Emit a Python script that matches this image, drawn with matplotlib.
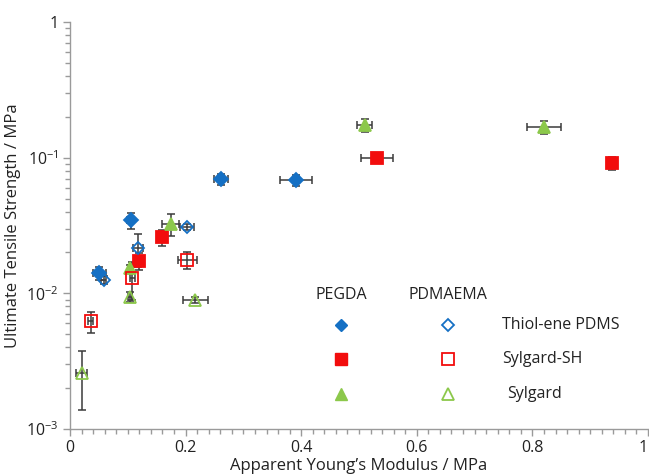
import math
import matplotlib
matplotlib.use("Agg")
import matplotlib.pyplot as plt
from matplotlib.ticker import FixedLocator, MultipleLocator, LogLocator, NullFormatter, FuncFormatter

plt.rcParams['font.family'] = ['Open Sans', 'DejaVu Sans']
plt.rcParams['mathtext.fontset'] = 'custom'
plt.rcParams['mathtext.rm'] = 'Open Sans'
plt.rcParams['mathtext.default'] = 'regular'

# ---- data: (modulus, modulus err, strength, strength err), MPa ----
# PEGDA hydrogels
pegda_thiol_x = [0.051, 0.105, 0.261, 0.391]
pegda_thiol_xerr = [0.011, 0.006, 0.012, 0.027]
pegda_thiol_y = [0.0141, 0.0347, 0.0697, 0.0685]
pegda_thiol_yerr = [0.0016, 0.0047, 0.0065, 0.0065]

pegda_sh_x = [0.120, 0.159, 0.531, 0.938]
pegda_sh_xerr = [0.004, 0.004, 0.028, 0.004]
pegda_sh_y = [0.0173, 0.0259, 0.099, 0.091]
pegda_sh_yerr = [0.0025, 0.0035, 0.005, 0.0095]

pegda_syl_x = [0.104, 0.174, 0.510, 0.820]
pegda_syl_xerr = [0.003, 0.014, 0.013, 0.030]
pegda_syl_y = [0.0153, 0.0325, 0.174, 0.167]
pegda_syl_yerr = [0.0010, 0.0060, 0.020, 0.018]

# PDMAEMA hydrogels
pdm_thiol_x = [0.058, 0.118, 0.203]
pdm_thiol_xerr = [0.005, 0.009, 0.012]
pdm_thiol_y = [0.01255, 0.0216, 0.031]
pdm_thiol_yerr = [0.0008, 0.0060, 0.0015]

pdm_sh_x = [0.036, 0.108, 0.203]
pdm_sh_xerr = [0.004, 0.004, 0.017]
pdm_sh_y = [0.0062, 0.0129, 0.0176]
pdm_sh_yerr = [0.0011, 0.0040, 0.0025]

pdm_syl_x = [0.020, 0.104, 0.217]
pdm_syl_xerr = [0.010, 0.004, 0.022]
pdm_syl_y = [0.00258, 0.0094, 0.00894]
pdm_syl_yerr = [0.0012, 0.0008, 0.0005]

BLUE = '#1570c4'
RED = '#f20d0d'
GREEN = '#8cc84b'
BAR = '#3a3a3a'
TXT = '#222222'

fig = plt.figure(figsize=(6.49, 4.74), dpi=100)
ax = fig.add_axes([70/649, 1 - 429/474, 578/649, 407/474])

series = [
    (pegda_thiol_x, pegda_thiol_xerr, pegda_thiol_y, pegda_thiol_yerr, 'D', BLUE, True, 7),
    (pegda_sh_x, pegda_sh_xerr, pegda_sh_y, pegda_sh_yerr, 's', RED, True, 8),
    (pegda_syl_x, pegda_syl_xerr, pegda_syl_y, pegda_syl_yerr, '^', GREEN, True, 8.5),
    (pdm_thiol_x, pdm_thiol_xerr, pdm_thiol_y, pdm_thiol_yerr, 'D', BLUE, False, 6.5),
    (pdm_sh_x, pdm_sh_xerr, pdm_sh_y, pdm_sh_yerr, 's', RED, False, 8),
    (pdm_syl_x, pdm_syl_xerr, pdm_syl_y, pdm_syl_yerr, '^', GREEN, False, 8),
]

for x, xe, y, ye, m, c, filled, ms in series:
    ax.errorbar(x, y, xerr=xe, yerr=ye, fmt='none', ecolor=BAR,
                elinewidth=1.1, capsize=2.8, capthick=1.1, zorder=2)
    ax.plot(x, y, linestyle='none', marker=m, markersize=ms,
            markerfacecolor=c if filled else 'none', markeredgecolor=c,
            markeredgewidth=1.3, zorder=3)

ax.set_yscale('log')
ax.set_xlim(0, 1)
ax.set_ylim(1e-3, 1)

ax.xaxis.set_major_locator(FixedLocator([0, 0.2, 0.4, 0.6, 0.8, 1.0]))
ax.xaxis.set_minor_locator(MultipleLocator(0.02))
ax.xaxis.set_major_formatter(FuncFormatter(
    lambda v, p: '0' if v == 0 else ('1' if abs(v - 1) < 1e-9 else f'{v:.1f}')))

ax.yaxis.set_major_locator(LogLocator(base=10, numticks=10))
ax.yaxis.set_minor_locator(LogLocator(base=10, subs=range(2, 10), numticks=20))
ax.yaxis.set_minor_formatter(NullFormatter())
ax.yaxis.set_major_formatter(FuncFormatter(
    lambda v, p: '1' if abs(v - 1) < 1e-9 else r'$10^{%d}$' % round(math.log10(v))))

for s in ['top', 'right']:
    ax.spines[s].set_visible(False)
for s in ['left', 'bottom']:
    ax.spines[s].set_color('#9a9a9a')
    ax.spines[s].set_linewidth(1.0)

ax.tick_params(which='major', direction='out', length=5, width=1, color='#9a9a9a',
               labelsize=11.5, labelcolor=TXT, pad=3)
ax.tick_params(which='minor', direction='out', length=3.5, width=1, color='#9a9a9a')

# keep the last x label inside the canvas
fig.canvas.draw()
xlabels = ax.get_xticklabels()
xlabels[-1].set_horizontalalignment('right')

ax.set_xlabel("Apparent Young\u2019s Modulus / MPa", fontsize=12, color=TXT, labelpad=1)
ax.set_ylabel("Ultimate Tensile Strength / MPa", fontsize=12, color=TXT, labelpad=4)

# legend drawn as a small table: columns = hydrogel, rows = substrate
def fx(px):
    return (px - 70) / 578

def fy(py):
    return 10 ** (-(py - 22) / 135.7)

ax.text(fx(341), fy(295), 'PEGDA', ha='center', va='center', fontsize=11.5, color=TXT)
ax.text(fx(448), fy(295), 'PDMAEMA', ha='center', va='center', fontsize=11.5, color=TXT)
rows = [('D', BLUE, 'Thiol-ene PDMS', 325, 502, 6.5),
        ('s', RED, 'Sylgard-SH', 359, 502, 8),
        ('^', GREEN, 'Sylgard', 394, 507, 8.5)]
for m, c, name, py, tx, ms in rows:
    ax.plot([fx(341)], [fy(py)], marker=m, markersize=ms, color=c, markeredgecolor=c,
            linestyle='none', clip_on=False)
    ax.plot([fx(448)], [fy(py)], marker=m, markersize=ms, markerfacecolor='white',
            markeredgecolor=c, markeredgewidth=1.3, linestyle='none', clip_on=False)
    ax.text(fx(tx), fy(py), name, ha='left', va='center', fontsize=11.5, color=TXT)

fig.savefig('out.png', dpi=100)
